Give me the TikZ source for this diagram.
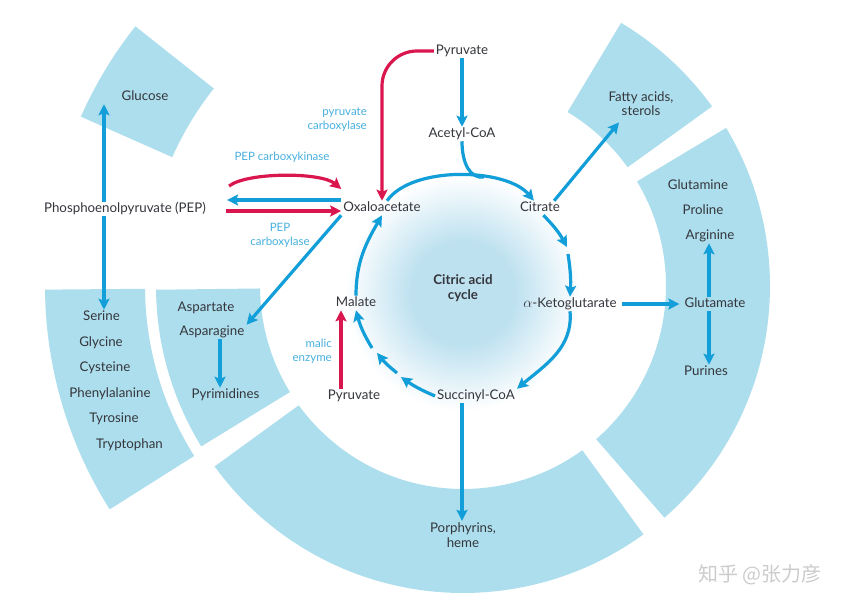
\documentclass[tikz,border=0pt]{standalone}
\usepackage{fontspec}
\setmainfont{Lato}
\newfontfamily\cjkfont{Noto Sans CJK SC}
\usetikzlibrary{arrows.meta}
\definecolor{ringc}{RGB}{173,222,237}
\definecolor{bluec}{RGB}{18,158,216}
\definecolor{redc}{RGB}{218,22,78}
\definecolor{lblc}{RGB}{72,176,222}
\definecolor{txtc}{RGB}{52,54,60}
\definecolor{glowc}{RGB}{190,225,240}
\pgfdeclareradialshading{glow}{\pgfpoint{0bp}{0bp}}{color(0bp)=(glowc); color(11bp)=(glowc); color(25bp)=(white); color(50bp)=(white)}
\newcommand\annsec[4]{\fill[ringc] plot[domain=#3:#4,samples=60] ({463+#1*cos(\x)},{-286+#1*sin(\x)}) -- plot[domain=#4:#3,samples=60] ({463+#2*cos(\x)},{-286+#2*sin(\x)}) -- cycle;}
\begin{document}
\begin{tikzpicture}[x=1pt,y=1pt,
  txt/.style={font=\fontsize{13.3}{15}\selectfont, text=txtc, inner sep=2pt, text height=1.6ex, text depth=.4ex},
  txtml/.style={font=\fontsize{13.3}{15}\selectfont, text=txtc, inner sep=2pt, align=center},
  boldml/.style={font=\bfseries\fontsize{13.3}{15}\selectfont, text=txtc, inner sep=2pt, align=center},
  lbl/.style={font=\fontsize{11.5}{14.2}\selectfont, text=lblc, inner sep=2pt},
  tipstyle/.style={-{Stealth[length=11pt,width=11pt,inset=2pt]}},
  barrow/.style={draw=bluec, line width=3.2pt, tipstyle},
  bline/.style={draw=bluec, line width=3.2pt},
  rarrow/.style={draw=redc, line width=3.2pt, tipstyle}]
\useasboundingbox (0,0) rectangle (862,-610);
\fill[white] (0,0) rectangle (862,-610);
% ring sectors
\annsec{203}{307}{35.8}{59}
\annsec{203}{307}{-49}{31}
\annsec{203}{307}{216}{306}
\annsec{203}{307}{180.7}{211.5}
\annsec{318}{418}{180.5}{212.3}
\annsec{318}{418}{141.6}{156.1}
% glow
\shade[shading=glow] (463,-293) circle (118);
% nodes
\node[txt] (pyr) at (462,-51) {Pyruvate};
\node[txt] (acoa) at (462,-134) {Acetyl-CoA};
\node[txt] (oxa) at (382,-208) {Oxaloacetate};
\node[txt] (cit) at (540,-208) {Citrate};
\node[txt] (akg) at (570,-304) {$\alpha$-Ketoglutarate};
\node[txt] (suc) at (476,-396) {Succinyl-CoA};
\node[txt] (mal) at (356,-303) {Malate};
\node[txt] (pyr2) at (354,-396) {Pyruvate};
\node[boldml] (cac) at (463,-288.5) {Citric acid\\cycle};
\node[txt] (pep) at (125,-209) {Phosphoenolpyruvate (PEP)};
\node[lbl] (pepck) at (282,-157) {PEP carboxykinase};
\node[lbl, align=center] (pepc) at (280,-235.5) {PEP\\carboxylase};
\node[lbl, align=right, anchor=east] (pc) at (369,-120) {pyruvate\\carboxylase};
\node[lbl, align=right, anchor=east] (me) at (334,-351) {malic\\enzyme};
\node[txt] (glc) at (145,-97) {Glucose};
\node[txtml, font=\fontsize{13.3}{13.5}\selectfont] (fa) at (641,-103.5) {Fatty acids,\\sterols};
\node[txt] (gln) at (698,-186) {Glutamine};
\node[txt] (pro) at (703,-211) {Proline};
\node[txt] (arg) at (710,-236) {Arginine};
\node[txt] (glu) at (715,-304) {Glutamate};
\node[txt] (pur) at (706,-372) {Purines};
\node[txt] (ser) at (101.5,-317) {Serine};
\node[txt] (gly) at (101,-343) {Glycine};
\node[txt] (cys) at (105,-368) {Cysteine};
\node[txt] (phe) at (110,-394) {Phenylalanine};
\node[txt] (tyr) at (114,-419) {Tyrosine};
\node[txt] (trp) at (129.5,-445) {Tryptophan};
\node[txt] (asp) at (206,-308) {Aspartate};
\node[txt] (asn) at (212,-332) {Asparagine};
\node[txt] (pyrim) at (225.5,-395) {Pyrimidines};
\node[txtml] (porph) at (463,-535.5) {Porphyrins,\\heme};
\node[font=\cjkfont\fontsize{20}{22}\selectfont, text=black!20] (wm) at (760,-575) {知乎 @张力彦};
% helper coordinates
\coordinate (join) at (484,-177);
\coordinate (k1) at (567,-247);
\coordinate (k2) at (568,-254);
\coordinate (s1) at (401,-377);
\coordinate (s2) at (397,-373);
\coordinate (s3) at (377,-353);
\coordinate (s4) at (372,-348);
% cycle
\draw[barrow] (oxa) to[out=55,in=130,looseness=0.75] (cit);
\draw[bline] (acoa.south) .. controls +(0,-22) and +(-14,-2) .. (join);
\draw[barrow] (cit.-65) to[bend left=8] (k1);
\draw[barrow] (k2) to[bend left=6] (akg.north);
\draw[barrow] (akg.south) to[out=-85,in=40] (suc.north east);
\draw[barrow] (suc.west) to[bend left=6] (s1);
\draw[barrow] (s2) to[bend left=6] (s3);
\draw[barrow] (s4) to[bend left=8] (mal.south);
\draw[barrow] (mal.north) to[out=90,in=-120] (oxa.south);
% top pyruvate
\draw[barrow] (pyr.south) -- (acoa.north);
\draw[rarrow, rounded corners=35pt] (pyr.west) -| (oxa.north);
% PEP region
\draw[rarrow] ([shift={(21,23)}]pep.east) .. controls +(18,14) and +(-20,17) .. ([yshift=19pt]oxa.west);
\draw[barrow] ([yshift=8pt]oxa.west) -- ([shift={(19,9)}]pep.east);
\draw[rarrow] ([shift={(18,-2)}]pep.east) -- ([yshift=-3pt]oxa.west);
\draw[barrow] (oxa.south west) -- (asn.north east);
\draw[barrow] ([xshift=-21pt]pep.north) -- ([xshift=-21pt]pep.north |- glc.south);
\draw[barrow] ([xshift=-21pt]pep.south) -- ([xshift=-21pt]pep.south |- ser.north);
\draw[barrow] ([xshift=8pt]asn.south) -- ([xshift=8pt]asn.south |- pyrim.north);
% malic enzyme
\draw[rarrow] ([xshift=-13pt]pyr2.north) -- ([xshift=-13pt]pyr2.north |- mal.south);
% right side
\draw[barrow] ([xshift=-8pt]cit.north east) -- ([shift={(-22,-5)}]fa.south);
\draw[barrow] ([xshift=3pt]akg.east) -- ([xshift=-3pt]glu.west);
\draw[barrow] ([xshift=-6pt]glu.north) -- ([xshift=-6pt]glu.north |- arg.south);
\draw[barrow] ([xshift=-6pt]glu.south) -- ([xshift=-6pt]glu.south |- pur.north);
% bottom
\draw[barrow] ([xshift=-14pt]suc.south) -- ([xshift=-14pt]suc.south |- porph.north);
\end{tikzpicture}
\end{document}
